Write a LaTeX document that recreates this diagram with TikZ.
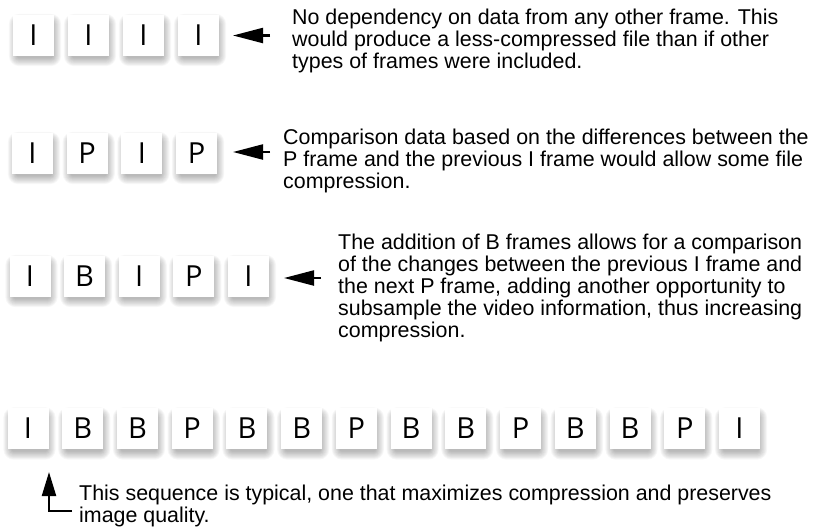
\documentclass[tikz,border=0pt]{standalone}
\usepackage{fontspec}
\setmainfont{Liberation Sans}
\newfontfamily\framefont{Open Sans}
\usetikzlibrary{arrows.meta}

% one frame of a video sequence: soft shadow layers falling down and to the right,
% then the white tile with its letter
\newcommand\vidframe[4]{%
  \foreach \k in {0,...,9}{%
    \fill[black,opacity=0.033,rounded corners={(2+0.9*\k)*1pt}]
      ({#2+1.5-18-0.9*\k},{#3+5-18-0.9*\k}) rectangle ({#2+1.5+18+0.9*\k},{#3+5+18+0.9*\k});
  }%
  \node[frm] (#1) at ({#2},{#3}) {#4};%
}

\begin{document}
\begin{tikzpicture}[x=1pt,y=-1pt,
  frm/.style={fill=white, minimum width=41pt, minimum height=41pt, inner sep=0pt,
              font=\framefont\fontsize{29}{29}\selectfont},
  note/.style={anchor=base west, align=left, inner sep=0pt,
               font=\fontsize{21.4}{22}\selectfont},
  ptr/.style={line width=2.2pt, -{Triangle[length=30pt,width=15pt]}},
  uptr/.style={line width=2.2pt, -{Triangle[length=24pt,width=14pt]}},
]
\useasboundingbox (0,0) rectangle (818,531);

% row 1: intra frames only
\foreach \L [count=\i, evaluate=\i as \x using 33.5+55*(\i-1)] in {I,I,I,I}{
  \vidframe{r1f\i}{\x}{35}{\L}
}
\coordinate (r1s) at (270,35.5);
\coordinate (r1t) at (233,35.5);
\draw[ptr] (r1s) -- (r1t);
% each text block is anchored at the baseline of its last line
\node[note] (r1txt) at (292,68) {No dependency on data from any other frame. This\\
would produce a less-compressed file than if other\\
types of frames were included.};

% row 2: I and P frames
\foreach \L [count=\i, evaluate=\i as \x using 32.5+54.7*(\i-1)] in {I,P,I,P}{
  \vidframe{r2f\i}{\x}{153}{\L}
}
\coordinate (r2s) at (270,152);
\coordinate (r2t) at (233,152);
\draw[ptr] (r2s) -- (r2t);
\node[note] (r2txt) at (283,188) {Comparison data based on the differences between the\\
P frame and the previous I frame would allow some file\\
compression.};

% row 3: I, B and P frames
\foreach \L [count=\i, evaluate=\i as \x using 30+54.6*(\i-1)] in {I,B,I,P,I}{
  \vidframe{r3f\i}{\x}{276}{\L}
}
\coordinate (r3s) at (321,278);
\coordinate (r3t) at (284,278);
\draw[ptr] (r3s) -- (r3t);
\node[note] (r3txt) at (338,337) {The addition of B frames allows for a comparison\\
of the changes between the previous I frame and\\
the next P frame, adding another opportunity to\\
subsample the video information, thus increasing\\
compression.};

% row 4: typical group of pictures
\foreach \L [count=\i, evaluate=\i as \x using 28+54.73*(\i-1)] in {I,B,B,P,B,B,P,B,B,P,B,B,P,I}{
  \vidframe{r4f\i}{\x}{428.5}{\L}
}
\coordinate (r4s) at (72,511);
\coordinate (r4t) at (49,472);
\draw[uptr] (r4s) -| (r4t);
\node[note] (r4txt) at (79,522) {This sequence is typical, one that maximizes compression and preserves\\
image quality.};
\end{tikzpicture}
\end{document}
